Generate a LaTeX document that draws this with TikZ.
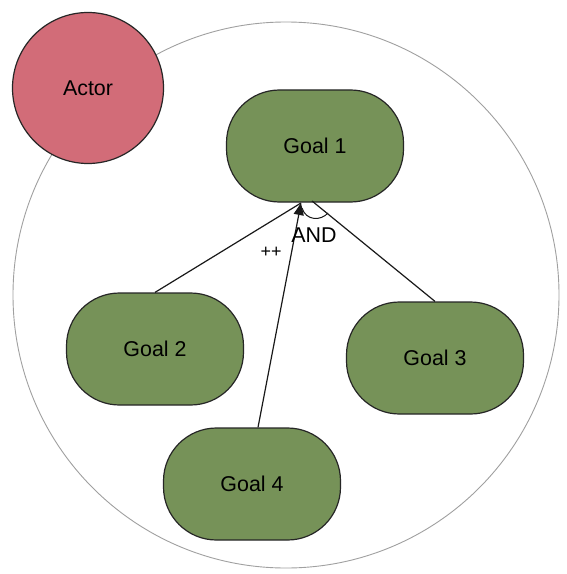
\documentclass[tikz,border=0pt]{standalone}
\usepackage{fontspec}
\setmainfont{Liberation Sans}
\usetikzlibrary{arrows.meta}
\definecolor{goalgreen}{RGB}{118,146,88}
\definecolor{actorred}{RGB}{210,108,120}
\definecolor{boundary}{RGB}{160,160,160}
\begin{document}
\begin{tikzpicture}[x=1bp,y=-1bp,
  goalbox/.style={draw=black!85,line width=1.2bp,fill=goalgreen,rounded corners=53bp,
    minimum width=177bp,minimum height=112bp,inner sep=0pt,font=\fontsize{21.5}{24}\selectfont},
  actornode/.style={draw=black!85,line width=1.2bp,fill=actorred,circle,minimum size=151bp,
    inner sep=0pt,font=\fontsize{21.5}{24}\selectfont},
  link/.style={line width=1.2bp,black!90}]
\useasboundingbox (0,0) rectangle (567,574);
\fill[white] (0,0) rectangle (567,574);
\node[draw=boundary,line width=0.9bp,circle,minimum size=546bp,inner sep=0pt] (bound) at (286,295) {};
\node[actornode] (actor) at (88,88) {Actor};
\node[goalbox] (g1) at (315,146) {Goal 1};
\node[goalbox] (g2) at (155,349) {Goal 2};
\node[goalbox] (g3) at (435,358) {Goal 3};
\node[goalbox] (g4) at (252,484) {Goal 4};
\coordinate (j) at (301,203);
\coordinate (j3) at (312,201);
\draw[link] (g2.north) -- (j);
\draw[link] (g3.north) -- (j3);
\draw[link,-{Triangle[length=12bp,width=10bp]}] ([xshift=6bp]g4.north) -- (j);
\coordinate (a1) at (302,208);
\coordinate (a2) at (328,213);
\draw[link,line width=1bp] (a1) .. controls (306,221) and (321,221) .. (a2);
\node[font=\fontsize{21.5}{24}\selectfont,inner sep=0pt] (and) at (314,235) {AND};
\node[font=\fontsize{18}{20}\selectfont,inner sep=0pt] (pp) at (271,252) {++};
\end{tikzpicture}
\end{document}
